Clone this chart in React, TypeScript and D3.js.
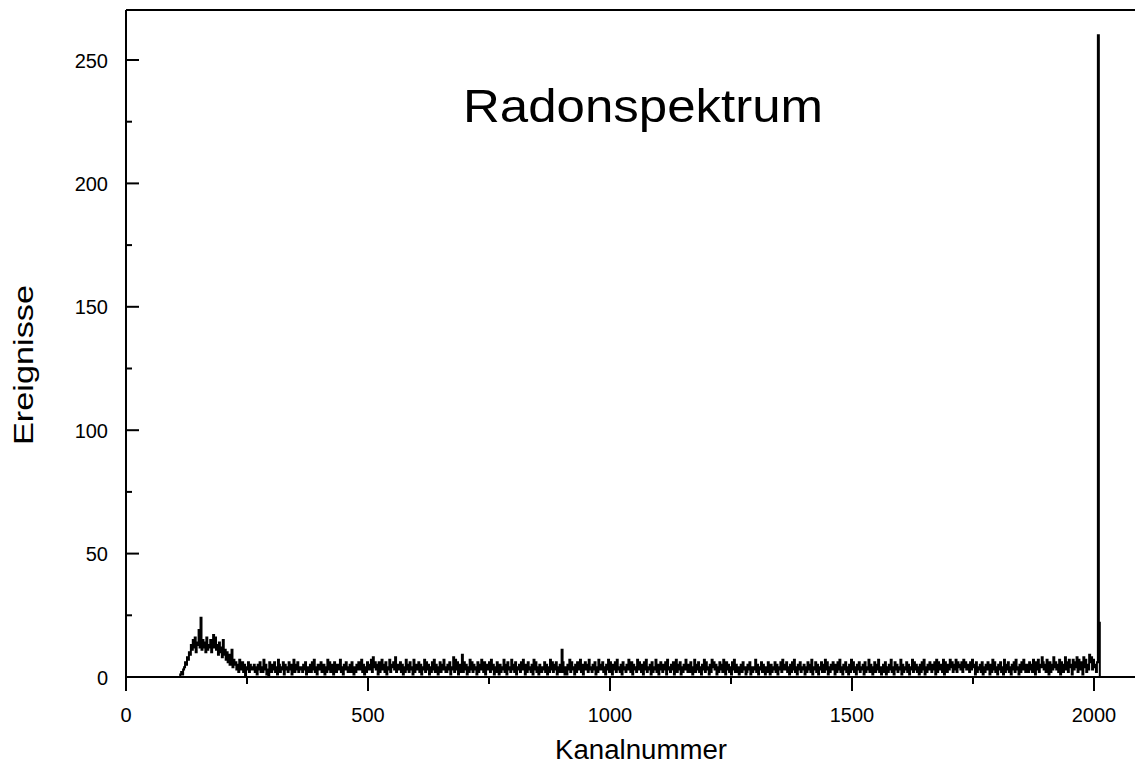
import React from "react";
import * as d3 from "d3";

// ---- Data ----
const title = "Radonspektrum";
const xLabel = "Kanalnummer";
const yLabel = "Ereignisse";

const xMajorTicks = [0, 500, 1000, 1500, 2000];
const xMinorTicks = [250, 750, 1250, 1750];
const yMajorTicks = [0, 50, 100, 150, 200, 250];
const yMinorTicks = [25, 75, 125, 175, 225];

// rising part of spectrum: channels 110..260, one value per 2 channels
const riseStart = 110;
const riseCounts = [
  0, 1, 2, 1, 3, 4, 6, 5, 8, 7, 10, 9,
  13, 11, 15, 12, 16, 10, 14, 13, 19, 12,
  24, 11,
  15, 12, 14, 10, 16, 11, 13, 12, 15, 10, 14, 17, 12,
  16, 11, 13, 9, 14, 10, 12, 8, 15, 9, 11,
  7, 10, 6, 9, 5, 8, 11, 4, 7, 5,
  6, 3, 5, 2, 7, 4, 3, 6, 2, 5, 0, 4, 3, 6, 2, 5, 3, 4,
];

// flat part of spectrum: channels 262..2006 (hex digits per 2 channels)
const flatStart = 262;
const flatEnd = 2006;
const flatDigits = [
  "35241536242735130642536241752436153426351472536243",
  "42536143252637241543623514273624516325437241536324",
  "52631425363472514263537284635162473526143725463825",
  "43625142735263417254362514372635142637254136253742",
  "25361438273615249263514273625431625374261534627351",
  "42631524372516342735261435263741526342517362415324",
  "3625142736253614252b621415372643152643725146352734",
  "25361427353624153726415362734251634253742615342736",
  "42516372435162437251364253617342536147253614253742",
  "52631472536241537264315274635142635274163524163725",
  "24135263412536142437251436253142631524362514362735",
  "36241526372415362435142635271436251436252736142536",
  "41526372415362415273624153624351624372541362537241",
  "35261425372416352437152436251437263524152637142536",
  "42536172643527164253746253726453627463542637451624",
  "35261425364152736241536241725362415362743152637425",
  "42635274163725486352741625384635271642583627451736",
  "48273651847253968374526",
];

// end peak
const spikeChannels = [2008, 2010, 2012];
const spikeCounts = [260, 22, 0];

// ---- Layout ----
const W = 1135;
const H = 780;

export default function App() {
  const x = d3.scaleLinear().domain([0, 2000]).range([126, 1094]);
  const y = d3.scaleLinear().domain([0, 250]).range([677, 60]);

  const flatCounts = flatDigits.join("").split("").map((c) => parseInt(c, 16));
  const flatStep = (flatEnd - flatStart) / (flatCounts.length - 1);

  const pts: [number, number][] = [];
  pts.push([0, 0]);
  riseCounts.forEach((v, i) => pts.push([riseStart + 2 * i, v]));
  flatCounts.forEach((v, i) => pts.push([flatStart + i * flatStep, v]));
  spikeChannels.forEach((c, i) => pts.push([c, spikeCounts[i]]));

  const line = d3
    .line<[number, number]>()
    .x((d) => x(d[0]))
    .y((d) => y(d[1]))
    .curve(d3.curveStepAfter);

  const font = "'Liberation Sans', Arial, Helvetica, sans-serif";
  const x0 = x(0);
  const y0 = y(0);
  const topY = 10;

  return (
    <div style={{ position: "absolute", left: 0, top: 0 }}>
      <svg width={W} height={H} style={{ display: "block", background: "#fff" }}>
        <rect x={0} y={0} width={W} height={H} fill="#fff" />
        {/* data */}
        <path d={line(pts) || ""} fill="none" stroke="#000" strokeWidth={2} strokeLinejoin="miter" />
        {/* frame / axes */}
        <line x1={x0} y1={topY} x2={W} y2={topY} stroke="#000" strokeWidth={2} />
        <line x1={x0} y1={topY} x2={x0} y2={y0} stroke="#000" strokeWidth={2} />
        <line x1={x0} y1={y0} x2={W} y2={y0} stroke="#000" strokeWidth={2} />
        {/* x ticks */}
        {xMajorTicks.map((t) => (
          <g key={"xm" + t}>
            <line x1={x(t)} x2={x(t)} y1={y0} y2={y0 + 14} stroke="#000" strokeWidth={2} />
            <text x={x(t)} y={722} textAnchor="middle" fontFamily={font} fontSize={20}>
              {t}
            </text>
          </g>
        ))}
        {xMinorTicks.map((t) => (
          <line key={"xn" + t} x1={x(t)} x2={x(t)} y1={y0} y2={y0 + 7} stroke="#000" strokeWidth={2} />
        ))}
        {/* y ticks */}
        {yMajorTicks.map((t) => (
          <g key={"ym" + t}>
            <line x1={x0} x2={x0 + 13} y1={y(t)} y2={y(t)} stroke="#000" strokeWidth={2} />
            <text x={108} y={y(t) + 7.5} textAnchor="end" fontFamily={font} fontSize={20}>
              {t}
            </text>
          </g>
        ))}
        {yMinorTicks.map((t) => (
          <line key={"yn" + t} x1={x0} x2={x0 + 6} y1={y(t)} y2={y(t)} stroke="#000" strokeWidth={2} />
        ))}
        {/* labels */}
        <text x={643} y={122} textAnchor="middle" fontFamily={font} fontSize={47} textLength={360} lengthAdjust="spacingAndGlyphs">
          {title}
        </text>
        <text x={641} y={759} textAnchor="middle" fontFamily={font} fontSize={27} textLength={172} lengthAdjust="spacingAndGlyphs">
          {xLabel}
        </text>
        <text
          transform={`translate(33,365) rotate(-90)`}
          textAnchor="middle"
          fontFamily={font}
          fontSize={28}
          textLength={160}
          lengthAdjust="spacingAndGlyphs"
        >
          {yLabel}
        </text>
      </svg>
    </div>
  );
}
